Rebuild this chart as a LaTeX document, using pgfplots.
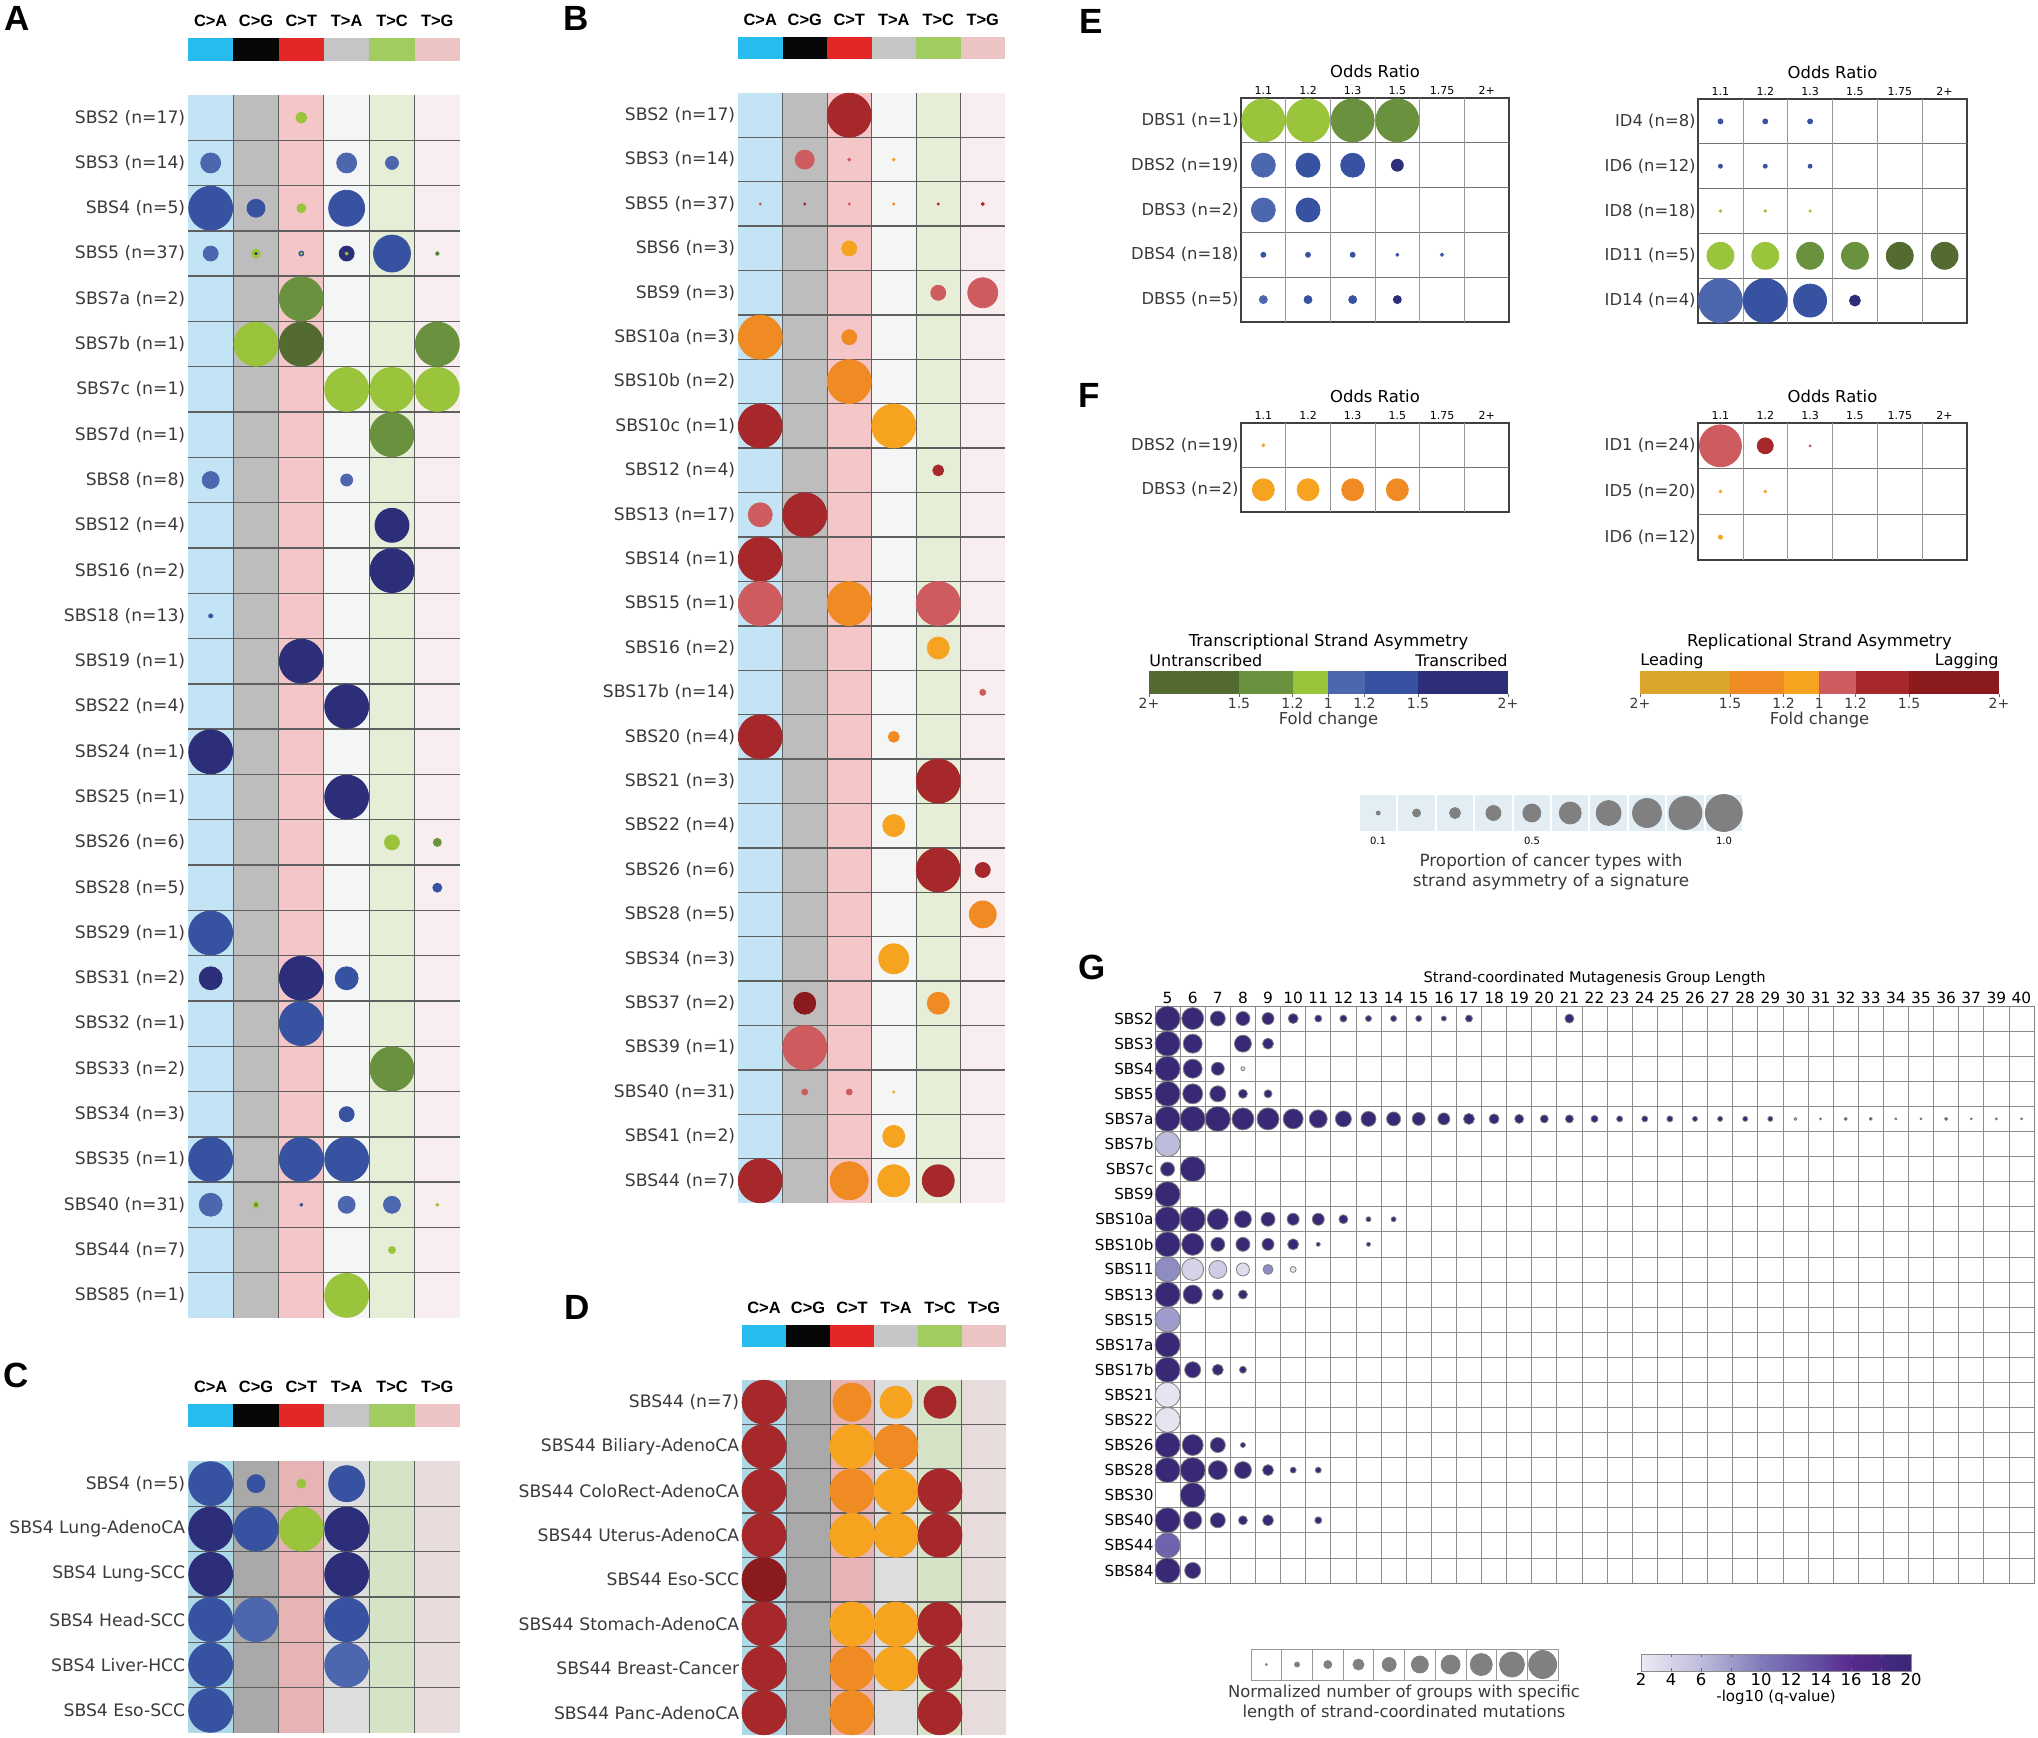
\documentclass[border=0pt]{standalone}
\usepackage{pgfplots}
\pgfplotsset{compat=1.18}
\usepackage{pgfplotstable}
\usepackage{fontspec}
\setmainfont{DejaVu Sans}
\newfontfamily\arialf{Liberation Sans}

\definecolor{tDG}{HTML}{536B30}
\definecolor{tMG}{HTML}{6A913D}
\definecolor{tLG}{HTML}{9AC43C}
\definecolor{tLB}{HTML}{4C67AE}
\definecolor{tMB}{HTML}{3652A1}
\definecolor{tNV}{HTML}{2C2E7A}
\definecolor{rGD}{HTML}{DAA52A}
\definecolor{rOR}{HTML}{F08A23}
\definecolor{rLO}{HTML}{F6A31F}
\definecolor{rLR}{HTML}{CE5C5E}
\definecolor{rRD}{HTML}{A6282B}
\definecolor{rDR}{HTML}{8B1A1D}
\definecolor{hCA}{HTML}{27BBEE}
\definecolor{hCG}{HTML}{060606}
\definecolor{hCT}{HTML}{E32727}
\definecolor{hTA}{HTML}{C5C5C5}
\definecolor{hTC}{HTML}{A1CC62}
\definecolor{hTG}{HTML}{ECC4C3}
\definecolor{aCA}{HTML}{C3E4F4}
\definecolor{aCG}{HTML}{BDBDBD}
\definecolor{aCT}{HTML}{F4C6C8}
\definecolor{aTA}{HTML}{F4F6F6}
\definecolor{aTC}{HTML}{E6EED7}
\definecolor{aTG}{HTML}{F9EEEF}
\definecolor{cCA}{HTML}{ADD9E6}
\definecolor{cCG}{HTML}{A9A9A9}
\definecolor{cCT}{HTML}{E6B4B5}
\definecolor{cTA}{HTML}{DDDDDD}
\definecolor{cTC}{HTML}{D5E3C7}
\definecolor{cTG}{HTML}{E7DBDB}
\definecolor{labgray}{HTML}{3A3A3A}
\definecolor{gridc}{HTML}{5F5F5F}
\definecolor{boxc}{HTML}{E2EEF4}
\definecolor{bubgray}{HTML}{808080}

\newcommand\rowfont{\fontsize{8.6}{10}\selectfont}
\newcommand\hdrfont{\arialf\bfseries\fontsize{8.2}{10}\selectfont}
\newcommand\letterfont{\arialf\bfseries\fontsize{17.5}{20}\selectfont}
\newcommand\legfont{\fontsize{8.2}{10}\selectfont}

\pgfplotsset{
  colormap={purp}{rgb255(0cm)=(236,234,244); rgb255(4cm)=(190,188,220); rgb255(8cm)=(128,124,186); rgb255(12cm)=(98,72,162); rgb255(14cm)=(88,42,142); rgb255(18cm)=(56,40,118)},
  bubbles/.style={scatter, only marks, mark=*, point meta=explicit symbolic,
    scatter/classes={tDG={color=tDG}, tMG={color=tMG}, tLG={color=tLG}, tLB={color=tLB}, tMB={color=tMB}, tNV={color=tNV},
      rGD={color=rGD}, rOR={color=rOR}, rLO={color=rLO}, rLR={color=rLR}, rRD={color=rRD}, rDR={color=rDR}},
    visualization depends on={\thisrow{d}/4 \as \msz},
    scatter/@pre marker code/.append style={/tikz/mark size=\msz, /tikz/line width=0.1pt}},
  sizebub/.style={scatter, only marks, mark=*, point meta=\thisrow{d},
    scatter/use mapped color={draw=#1, fill=#1},
    visualization depends on={\thisrow{d}/4 \as \msz},
    scatter/@pre marker code/.append style={/tikz/mark size=\msz, /tikz/line width=0.1pt}},
  sbs/.style={scale only axis, clip=false, anchor=north west, xmin=0.5, xmax=6.5, ymin=0.5,
    axis line style={draw=none}, xtick=\empty, major tick length=0pt, tick style={draw=none},
    yticklabel style={font=\rowfont, text=labgray, inner sep=1.2pt}},
  orgrid/.style={scale only axis, clip=false, anchor=north west, xmin=0.5, xmax=6.5, ymin=0.5,
    axis line style={draw=black!75, line width=0.7pt},
    xtick={1,...,6}, xticklabels={1.1,1.2,1.3,1.5,1.75,2+}, xticklabel pos=upper,
    major tick length=0pt, tick style={draw=none},
    xticklabel style={font=\fontsize{5.5}{6}\selectfont, inner sep=1.5pt},
    yticklabel style={font=\fontsize{8.2}{10}\selectfont, text=labgray, inner sep=1pt}},
}

\newcommand\colbg[2]{%
  \fill[#1CA] (axis cs:0.5,0.5) rectangle (axis cs:1.5,#2);
  \fill[#1CG] (axis cs:1.5,0.5) rectangle (axis cs:2.5,#2);
  \fill[#1CT] (axis cs:2.5,0.5) rectangle (axis cs:3.5,#2);
  \fill[#1TA] (axis cs:3.5,0.5) rectangle (axis cs:4.5,#2);
  \fill[#1TC] (axis cs:4.5,0.5) rectangle (axis cs:5.5,#2);
  \fill[#1TG] (axis cs:5.5,0.5) rectangle (axis cs:6.5,#2);}
\newcommand\sbshead[3]{%
  \fill[hCA] (axis cs:0.5,#1) rectangle (axis cs:1.5,#2);
  \fill[hCG] (axis cs:1.5,#1) rectangle (axis cs:2.5,#2);
  \fill[hCT] (axis cs:2.5,#1) rectangle (axis cs:3.5,#2);
  \fill[hTA] (axis cs:3.5,#1) rectangle (axis cs:4.5,#2);
  \fill[hTC] (axis cs:4.5,#1) rectangle (axis cs:5.5,#2);
  \fill[hTG] (axis cs:5.5,#1) rectangle (axis cs:6.5,#2);
  \node[font=\hdrfont] at (axis cs:1,#3) {C>A};
  \node[font=\hdrfont] at (axis cs:2,#3) {C>G};
  \node[font=\hdrfont] at (axis cs:3,#3) {C>T};
  \node[font=\hdrfont] at (axis cs:4,#3) {T>A};
  \node[font=\hdrfont] at (axis cs:5,#3) {T>C};
  \node[font=\hdrfont] at (axis cs:6,#3) {T>G};}
\newcommand\sbsgrid[2]{%
  \pgfplotsinvokeforeach{#1}{\draw[gridc, line width=0.7pt] (axis cs:0.5,##1) -- (axis cs:6.5,##1);}%
  \pgfplotsinvokeforeach{1.5,2.5,3.5,4.5,5.5}{\draw[gridc, line width=0.5pt] (axis cs:##1,0.5) -- (axis cs:##1,#2);}}
\newcommand\orlines[2]{%
  \pgfplotsinvokeforeach{#1}{\draw[black!55, line width=0.6pt] (axis cs:0.5,##1) -- (axis cs:6.5,##1);}%
  \pgfplotsinvokeforeach{1.5,2.5,3.5,4.5,5.5}{\draw[black!40, line width=0.35pt] (axis cs:##1,0.5) -- (axis cs:##1,#2);}}

% ---------------- data ----------------
\pgfplotstableread{
x r d c
3 1 11 tLG
1 2 20 tLB
4 2 20 tLB
5 2 13 tLB
1 3 44 tMB
2 3 18 tMB
3 3 9 tLG
4 3 36 tMB
1 4 15 tLB
2 4 9 tLG
2 4 2 tNV
3 4 5 tMB
3 4 2 tLG
4 4 15 tNV
4 4 3 tLG
5 4 37 tMB
6 4 4 tLG
6 4 2 tMB
3 5 44 tMG
2 6 44 tLG
3 6 44 tDG
6 6 44 tMG
4 7 44 tLG
5 7 44 tLG
6 7 44 tLG
5 8 44 tMG
1 9 17 tLB
4 9 12 tLB
5 10 34 tNV
5 11 44 tNV
1 12 4 tMB
3 13 44 tNV
4 14 44 tNV
1 15 44 tNV
4 16 44 tNV
5 17 15 tLG
6 17 8 tMG
6 18 9 tMB
1 19 44 tMB
1 20 23 tNV
3 20 44 tNV
4 20 23 tMB
3 21 44 tMB
5 22 44 tMG
4 23 15 tMB
1 24 44 tMB
3 24 44 tMB
4 24 44 tMB
1 25 23 tLB
2 25 6 tLG
2 25 2 tDG
3 25 3 tMB
4 25 17 tLB
5 25 17 tLB
6 25 3 tLG
5 26 7 tLG
4 27 44 tLG
}\tA

\pgfplotstableread{
x r d c
3 1 44 rRD
2 2 19 rLR
3 2 3 rLR
4 2 3 rLO
1 3 2 rLR
2 3 2 rRD
3 3 2 rLR
4 3 2 rOR
5 3 2 rRD
6 3 3 rRD
3 4 15 rLO
5 5 15 rLR
6 5 30 rLR
1 6 44 rOR
3 6 15 rOR
3 7 44 rOR
1 8 44 rRD
4 8 44 rLO
5 9 11 rRD
1 10 24 rLR
2 10 44 rRD
1 11 44 rRD
1 12 44 rLR
3 12 44 rOR
5 12 44 rLR
5 13 22 rLO
6 14 6 rLR
1 15 44 rRD
4 15 11 rOR
5 16 44 rRD
4 17 22 rLO
5 18 44 rRD
6 18 15 rRD
6 19 27 rOR
4 20 30 rLO
2 21 22 rDR
5 21 22 rOR
2 22 44 rLR
2 23 6 rLR
3 23 6 rLR
4 23 2 rLO
4 24 22 rLO
1 25 44 rRD
3 25 38 rOR
4 25 32 rLO
5 25 32 rRD
}\tB

\pgfplotstableread{
x r d c
1 1 44 tMB
2 1 18 tMB
3 1 9 tLG
4 1 36 tMB
1 2 44 tNV
2 2 44 tMB
3 2 44 tLG
4 2 44 tNV
1 3 44 tNV
4 3 44 tNV
1 4 44 tMB
2 4 44 tLB
4 4 44 tMB
1 5 44 tMB
4 5 44 tLB
1 6 44 tMB
}\tC

\pgfplotstableread{
x r d c
1 1 44 rRD
3 1 38 rOR
4 1 32 rLO
5 1 32 rRD
1 2 44 rRD
3 2 44 rLO
4 2 44 rOR
1 3 44 rRD
3 3 44 rOR
4 3 44 rLO
5 3 44 rRD
1 4 44 rRD
3 4 44 rLO
4 4 44 rLO
5 4 44 rRD
1 5 44 rDR
1 6 44 rRD
3 6 44 rLO
4 6 44 rLO
5 6 44 rRD
1 7 44 rRD
3 7 44 rOR
4 7 44 rLO
5 7 44 rRD
1 8 44 rRD
3 8 44 rOR
5 8 44 rRD
}\tD

\pgfplotstableread{
x r d c
1 1 43 tLG
2 1 43 tLG
3 1 43 tMG
4 1 43 tMG
1 2 24 tLB
2 2 24 tMB
3 2 24 tMB
4 2 12 tNV
1 3 24 tLB
2 3 24 tMB
1 4 5 tMB
2 4 5 tMB
3 4 5 tMB
4 4 3 tMB
5 4 3 tMB
1 5 8 tLB
2 5 8 tMB
3 5 8 tMB
4 5 8 tNV
}\tEd

\pgfplotstableread{
x r d c
1 1 5 tMB
2 1 5 tMB
3 1 5 tMB
1 2 4 tMB
2 2 4 tMB
3 2 4 tMB
1 3 2.5 tLG
2 3 2.5 tLG
3 3 2.5 tLG
1 4 27 tLG
2 4 27 tLG
3 4 27 tMG
4 4 27 tMG
5 4 27 tDG
6 4 27 tDG
1 5 44 tLB
2 5 44 tMB
3 5 33 tMB
4 5 11 tNV
}\tEi

\pgfplotstableread{
x r d c
1 1 3 rLO
1 2 22 rLO
2 2 22 rLO
3 2 22 rOR
4 2 22 rOR
}\tFd

\pgfplotstableread{
x r d c
1 1 42 rLR
2 1 16 rRD
3 1 2 rLR
1 2 2.5 rLO
2 2 2.5 rLO
1 3 4 rLO
}\tFi

\pgfplotstableread{
x r d q
1 1 25 20
2 1 22 20
3 1 15 20
4 1 14 20
5 1 12 20
6 1 10 20
7 1 7 20
8 1 7 20
9 1 6 20
10 1 6 20
11 1 6 20
12 1 5 20
13 1 7 20
17 1 9 20
1 2 25 20
2 2 19 20
4 2 17 20
5 2 11 20
1 3 25 20
2 3 19 20
3 3 13 20
4 3 4 3
1 4 25 20
2 4 20 20
3 4 16 20
4 4 9 20
5 4 8 20
1 5 25 20
2 5 25 20
3 5 25 20
4 5 22 20
5 5 22 20
6 5 20 20
7 5 18 20
8 5 16 20
9 5 15 20
10 5 14 20
11 5 13 20
12 5 12 20
13 5 11 20
14 5 10 20
15 5 9 20
16 5 8 20
17 5 8 20
18 5 7 20
19 5 6 20
20 5 6 20
21 5 6 20
22 5 5 20
23 5 5 20
24 5 5 20
25 5 5 20
26 5 3 8
27 5 2 20
28 5 3 20
29 5 3 20
30 5 2 20
31 5 2 20
32 5 3 20
33 5 2 20
34 5 2 20
35 5 2 20
1 6 25 6
1 7 14 20
2 7 25 20
1 8 25 20
1 9 25 20
2 9 25 20
3 9 21 20
4 9 17 20
5 9 14 20
6 9 12 20
7 9 12 20
8 9 9 20
9 9 5 20
10 9 5 20
1 10 25 20
2 10 22 20
3 10 14 20
4 10 14 20
5 10 12 20
6 10 11 20
7 10 4 20
9 10 4 20
1 11 25 9
2 11 22 4
3 11 18 4.5
4 11 13 3
5 11 10 9
6 11 6 2.5
1 12 25 20
2 12 19 20
3 12 11 20
4 12 9 20
1 13 25 8
1 14 25 20
1 15 25 20
2 15 16 20
3 15 11 20
4 15 7 20
1 16 25 2.5
1 17 25 2.5
1 18 25 20
2 18 21 20
3 18 15 20
4 18 5 20
1 19 25 20
2 19 25 20
3 19 19 20
4 19 17 20
5 19 11 20
6 19 6 20
7 19 6 20
2 20 25 20
1 21 25 20
2 21 18 20
3 21 15 20
4 21 9 20
5 21 11 20
7 21 7 20
1 22 25 12
1 23 25 20
2 23 16 20
}\tG

\pgfplotstableread{
x d
1 4
2 8
3 11
4 15
5 18
6 22
7 25
8 29
9 33
10 37
}\tLegE

\pgfplotstableread{
x d
1 2
2 5
3 8
4 11
5 14
6 17
7 19
8 22
9 25
10 28
}\tLegG

\begin{document}
\begin{tikzpicture}
\useasboundingbox (0,0) rectangle (1019pt,-869pt);

% panel letters
\node[font=\letterfont] at (8.5pt,-9pt) {A};
\node[font=\letterfont] at (288pt,-9pt) {B};
\node[font=\letterfont] at (8pt,-687.5pt) {C};
\node[font=\letterfont] at (288.5pt,-653.5pt) {D};
\node[font=\letterfont] at (545.5pt,-10.5pt) {E};
\node[font=\letterfont] at (544.5pt,-197.5pt) {F};
\node[font=\letterfont] at (546pt,-483.5pt) {G};

% ---------- A ----------
\begin{axis}[sbs, at={(94pt,-47.5pt)}, width=136pt, height=611.5pt, ymax=27.5,
  ytick={27,26,...,1},
  yticklabels={SBS2 (n=17),SBS3 (n=14),SBS4 (n=5),SBS5 (n=37),SBS7a (n=2),SBS7b (n=1),SBS7c (n=1),SBS7d (n=1),SBS8 (n=8),SBS12 (n=4),SBS16 (n=2),SBS18 (n=13),SBS19 (n=1),SBS22 (n=4),SBS24 (n=1),SBS25 (n=1),SBS26 (n=6),SBS28 (n=5),SBS29 (n=1),SBS31 (n=2),SBS32 (n=1),SBS33 (n=2),SBS34 (n=3),SBS35 (n=1),SBS40 (n=31),SBS44 (n=7),SBS85 (n=1)}]
\colbg{a}{27.5}
\sbsgrid{1.5,2.5,...,26.5}{27.5}
\sbshead{28.26}{28.75}{29.14}
\addplot[bubbles] table[x=x, y expr=28-\thisrow{r}, meta=c] {\tA};
\end{axis}

% ---------- B ----------
\begin{axis}[sbs, at={(369pt,-46.5pt)}, width=133.5pt, height=555pt, ymax=25.5,
  ytick={25,24,...,1},
  yticklabels={SBS2 (n=17),SBS3 (n=14),SBS5 (n=37),SBS6 (n=3),SBS9 (n=3),SBS10a (n=3),SBS10b (n=2),SBS10c (n=1),SBS12 (n=4),SBS13 (n=17),SBS14 (n=1),SBS15 (n=1),SBS16 (n=2),SBS17b (n=14),SBS20 (n=4),SBS21 (n=3),SBS22 (n=4),SBS26 (n=6),SBS28 (n=5),SBS34 (n=3),SBS37 (n=2),SBS39 (n=1),SBS40 (n=31),SBS41 (n=2),SBS44 (n=7)}]
\colbg{a}{25.5}
\sbsgrid{1.5,2.5,...,24.5}{25.5}
\sbshead{26.26}{26.75}{27.14}
\addplot[bubbles] table[x=x, y expr=26-\thisrow{r}, meta=c] {\tB};
\end{axis}

% ---------- C ----------
\begin{axis}[sbs, at={(94pt,-730.5pt)}, width=136pt, height=136pt, ymax=6.5,
  ytick={6,5,...,1},
  yticklabels={SBS4 (n=5),SBS4 Lung-AdenoCA,SBS4 Lung-SCC,SBS4 Head-SCC,SBS4 Liver-HCC,SBS4 Eso-SCC}]
\colbg{c}{6.5}
\sbsgrid{1.5,2.5,...,5.5}{6.5}
\sbshead{7.25}{7.76}{8.13}
\addplot[bubbles] table[x=x, y expr=7-\thisrow{r}, meta=c] {\tC};
\end{axis}

% ---------- D ----------
\begin{axis}[sbs, at={(371pt,-690pt)}, width=132pt, height=177.5pt, ymax=8.5,
  ytick={8,7,...,1},
  yticklabels={SBS44 (n=7),SBS44 Biliary-AdenoCA,SBS44 ColoRect-AdenoCA,SBS44 Uterus-AdenoCA,SBS44 Eso-SCC,SBS44 Stomach-AdenoCA,SBS44 Breast-Cancer,SBS44 Panc-AdenoCA}]
\colbg{c}{8.5}
\sbsgrid{1.5,2.5,...,7.5}{8.5}
\sbshead{9.24}{9.74}{10.12}
\addplot[bubbles] table[x=x, y expr=9-\thisrow{r}, meta=c] {\tD};
\end{axis}

% ---------- E ----------
\begin{axis}[orgrid, at={(620.5pt,-49pt)}, width=134pt, height=112pt, ymax=5.5,
  ytick={5,4,...,1}, yticklabels={DBS1 (n=1),DBS2 (n=19),DBS3 (n=2),DBS4 (n=18),DBS5 (n=5)}]
\orlines{1.5,2.5,3.5,4.5}{5.5}
\node[font=\fontsize{8.2}{10}\selectfont, yshift=13.5pt] at (rel axis cs:0.5,1) {Odds Ratio};
\addplot[bubbles] table[x=x, y expr=6-\thisrow{r}, meta=c] {\tEd};
\end{axis}
\begin{axis}[orgrid, at={(849pt,-49.5pt)}, width=134.5pt, height=112pt, ymax=5.5,
  ytick={5,4,...,1}, yticklabels={ID4 (n=8),ID6 (n=12),ID8 (n=18),ID11 (n=5),ID14 (n=4)}]
\orlines{1.5,2.5,3.5,4.5}{5.5}
\node[font=\fontsize{8.2}{10}\selectfont, yshift=13.5pt] at (rel axis cs:0.5,1) {Odds Ratio};
\addplot[bubbles] table[x=x, y expr=6-\thisrow{r}, meta=c] {\tEi};
\end{axis}

% ---------- F ----------
\begin{axis}[orgrid, at={(620.5pt,-211.5pt)}, width=134pt, height=44.5pt, ymax=2.5,
  ytick={2,1}, yticklabels={DBS2 (n=19),DBS3 (n=2)}]
\orlines{1.5}{2.5}
\node[font=\fontsize{8.2}{10}\selectfont, yshift=13.5pt] at (rel axis cs:0.5,1) {Odds Ratio};
\addplot[bubbles] table[x=x, y expr=3-\thisrow{r}, meta=c] {\tFd};
\end{axis}
\begin{axis}[orgrid, at={(849pt,-211.5pt)}, width=134.5pt, height=68.5pt, ymax=3.5,
  ytick={3,2,1}, yticklabels={ID1 (n=24),ID5 (n=20),ID6 (n=12)}]
\orlines{1.5,2.5}{3.5}
\node[font=\fontsize{8.2}{10}\selectfont, yshift=13.5pt] at (rel axis cs:0.5,1) {Odds Ratio};
\addplot[bubbles] table[x=x, y expr=4-\thisrow{r}, meta=c] {\tFi};
\end{axis}

% ---------- strand asymmetry colour keys ----------
\fill[tDG] (574.5pt,-335.5pt) rectangle (619.5pt,-347pt);
\fill[tMG] (619.5pt,-335.5pt) rectangle (646.25pt,-347pt);
\fill[tLG] (646.25pt,-335.5pt) rectangle (664.1pt,-347pt);
\fill[tLB] (664.1pt,-335.5pt) rectangle (682.25pt,-347pt);
\fill[tMB] (682.25pt,-335.5pt) rectangle (709pt,-347pt);
\fill[tNV] (709pt,-335.5pt) rectangle (754pt,-347pt);
\foreach \xx/\ll in {574.5/2+,619.5/1.5,646.25/1.2,664.1/1,682.25/1.2,709/1.5,754/2+} {
  \draw[black!60, line width=0.3pt] (\xx pt,-347pt) -- (\xx pt,-348.5pt);
  \node[font=\fontsize{7}{8}\selectfont, text=labgray] at (\xx pt,-351.5pt) {\ll};}
\node[font=\legfont] at (664.25pt,-321pt) {Transcriptional Strand Asymmetry};
\node[font=\fontsize{8}{10}\selectfont, anchor=west, inner sep=0pt] at (574.5pt,-330.5pt) {Untranscribed};
\node[font=\fontsize{8}{10}\selectfont, anchor=east, inner sep=0pt] at (754pt,-330.5pt) {Transcribed};
\node[font=\legfont, text=labgray] at (664.25pt,-360pt) {Fold change};

\fill[rGD] (820pt,-335.5pt) rectangle (865pt,-347pt);
\fill[rOR] (865pt,-335.5pt) rectangle (891.75pt,-347pt);
\fill[rLO] (891.75pt,-335.5pt) rectangle (909.6pt,-347pt);
\fill[rLR] (909.6pt,-335.5pt) rectangle (927.75pt,-347pt);
\fill[rRD] (927.75pt,-335.5pt) rectangle (954.5pt,-347pt);
\fill[rDR] (954.5pt,-335.5pt) rectangle (999.5pt,-347pt);
\foreach \xx/\ll in {820/2+,865/1.5,891.75/1.2,909.6/1,927.75/1.2,954.5/1.5,999.5/2+} {
  \draw[black!60, line width=0.3pt] (\xx pt,-347pt) -- (\xx pt,-348.5pt);
  \node[font=\fontsize{7}{8}\selectfont, text=labgray] at (\xx pt,-351.5pt) {\ll};}
\node[font=\legfont] at (909.75pt,-321pt) {Replicational Strand Asymmetry};
\node[font=\fontsize{8}{10}\selectfont, anchor=west, inner sep=0pt] at (820pt,-330.5pt) {Leading};
\node[font=\fontsize{8}{10}\selectfont, anchor=east, inner sep=0pt] at (999.5pt,-330.5pt) {Lagging};
\node[font=\legfont, text=labgray] at (909.75pt,-360pt) {Fold change};

% ---------- proportion size key ----------
\foreach \i in {0,...,9} {
  \fill[boxc] ({679.5pt+\i*19.2pt+0.5pt},-397.5pt) rectangle ({679.5pt+\i*19.2pt+18.7pt},-415.5pt);}
\begin{axis}[scale only axis, hide axis, clip=false, anchor=north west, at={(679.5pt,-397.5pt)},
  width=192pt, height=18pt, xmin=0.5, xmax=10.5, ymin=0, ymax=1]
\addplot[sizebub=bubgray] table[x=x, y expr=0.5] {\tLegE};
\end{axis}
\node[font=\fontsize{5}{6}\selectfont] at (689pt,-420.5pt) {0.1};
\node[font=\fontsize{5}{6}\selectfont] at (766pt,-420.5pt) {0.5};
\node[font=\fontsize{5}{6}\selectfont] at (862pt,-420.5pt) {1.0};
\node[font=\fontsize{8.4}{10}\selectfont, text=labgray] at (775.5pt,-431pt) {Proportion of cancer types with};
\node[font=\fontsize{8.4}{10}\selectfont, text=labgray] at (775.5pt,-441pt) {strand asymmetry of a signature};

% ---------- G ----------
\begin{axis}[scale only axis, clip=false, anchor=north west, at={(577.5pt,-503pt)},
  width=439.5pt, height=288.5pt, xmin=0.5, xmax=35.5, ymin=0.5, ymax=23.5,
  axis line style={draw=black!50, line width=0.5pt},
  xtick={1,...,35},
  xticklabels={5,6,7,8,9,10,11,12,13,14,15,16,17,18,19,20,21,22,23,24,25,26,27,28,29,30,31,32,33,34,35,36,37,39,40},
  xticklabel pos=upper,
  ytick={23,22,...,1},
  yticklabels={SBS2,SBS3,SBS4,SBS5,SBS7a,SBS7b,SBS7c,SBS9,SBS10a,SBS10b,SBS11,SBS13,SBS15,SBS17a,SBS17b,SBS21,SBS22,SBS26,SBS28,SBS30,SBS40,SBS44,SBS84},
  major tick length=0pt, minor tick length=0pt, tick style={draw=none},
  minor xtick={1.5,2.5,...,34.5}, minor ytick={1.5,2.5,...,22.5},
  xminorgrids=true, yminorgrids=true, minor grid style={black!45, line width=0.35pt},
  xticklabel style={font=\fontsize{7.7}{9}\selectfont, inner sep=1pt},
  yticklabel style={font=\fontsize{7.6}{9}\selectfont, inner sep=0.6pt},
  colormap name=purp, point meta min=2, point meta max=20]
\node[font=\fontsize{7.3}{9}\selectfont, yshift=14pt] at (rel axis cs:0.5,1) {Strand-coordinated Mutagenesis Group Length};
\addplot[scatter, only marks, mark=*, point meta=explicit,
  scatter/use mapped color={draw=black!50, fill=mapped color},
  visualization depends on={\thisrow{d}/4 \as \msz},
  scatter/@pre marker code/.append style={/tikz/mark size=\msz, /tikz/line width=0.25pt}]
  table[x=x, y expr=24-\thisrow{r}, meta=q] {\tG};
\end{axis}

% ---------- G size key ----------
\foreach \i in {0,...,9} {
  \draw[black!40, line width=0.4pt] ({625.5pt+\i*15.35pt},-824.5pt) rectangle ({625.5pt+(\i+1)*15.35pt},-840pt);}
\begin{axis}[scale only axis, hide axis, clip=false, anchor=north west, at={(625.5pt,-824.5pt)},
  width=153.5pt, height=15.5pt, xmin=0.5, xmax=10.5, ymin=0, ymax=1]
\addplot[sizebub=bubgray] table[x=x, y expr=0.5] {\tLegG};
\end{axis}
\node[font=\legfont, text=labgray] at (702pt,-846.5pt) {Normalized number of groups with specific};
\node[font=\legfont, text=labgray] at (702pt,-856.5pt) {length of strand-coordinated mutations};

% ---------- G colour bar ----------
\coordinate (gcb) at (820.5pt,-818.5pt);
\begin{axis}[hide axis, scale only axis, anchor=north west, at={(gcb)}, width=135pt, height=8.5pt,
  xmin=0, xmax=1, ymin=0, ymax=1, colormap name=purp, point meta min=2, point meta max=20,
  colorbar horizontal,
  colorbar style={at={(gcb)}, anchor=north west, width=135pt, height=8.5pt,
    xtick={2,4,...,20}, /pgf/number format/assume math mode=true,
    xticklabel style={font=\fontsize{8.2}{9}\selectfont, inner sep=1pt},
    xlabel={-log10 (q-value)}, xlabel style={font=\fontsize{7.5}{9}\selectfont, inner sep=1pt},
    axis line style={draw=black!45, line width=0.3pt}, major tick length=1.5pt,
    tick style={draw=black!60, line width=0.3pt}}]
\end{axis}
\end{tikzpicture}
\end{document}
